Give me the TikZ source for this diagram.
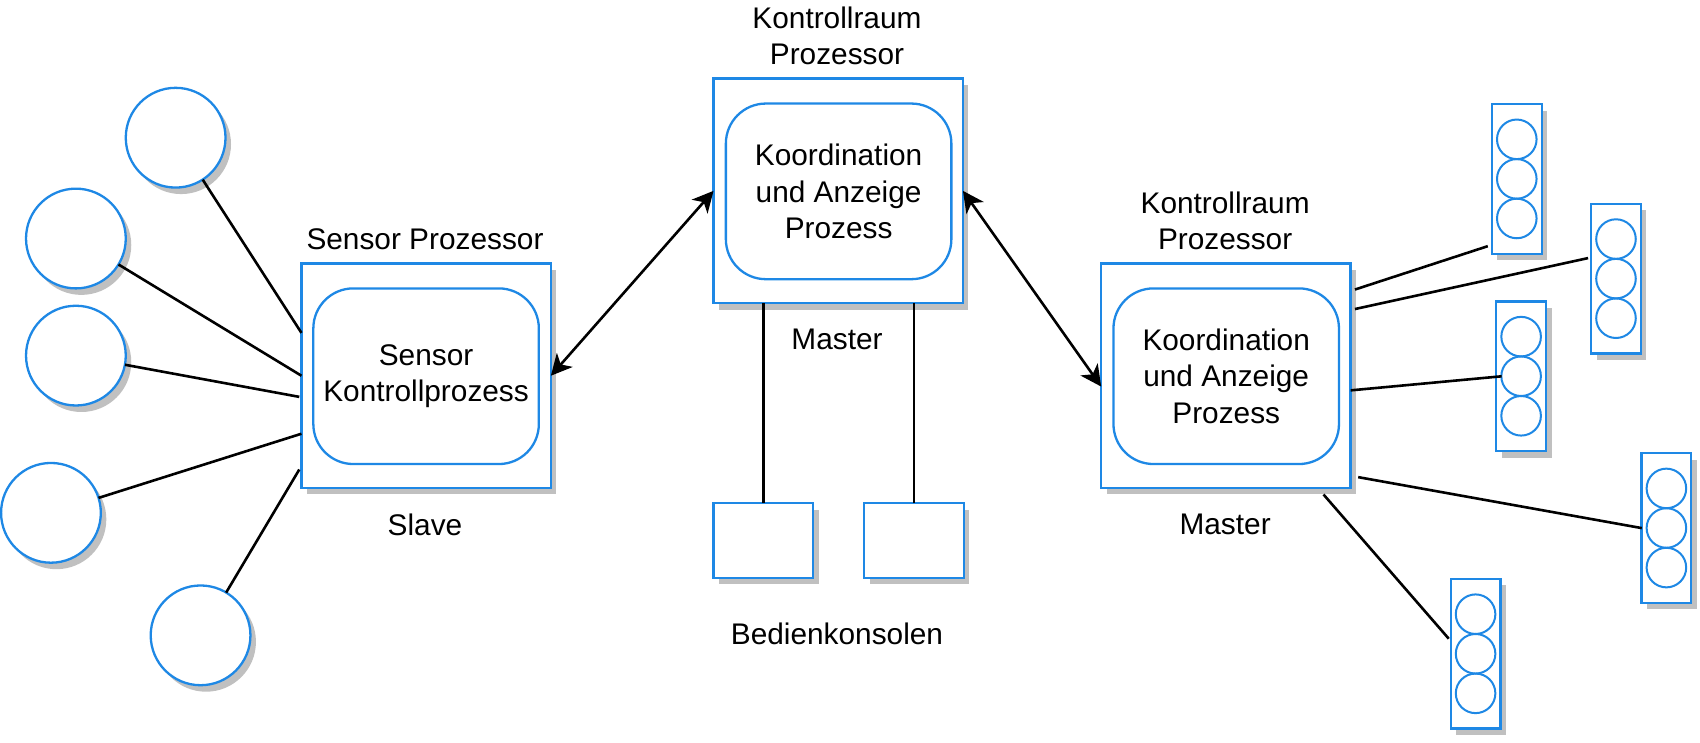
\documentclass[tikz,border=0pt]{standalone}
\usepackage{fontspec}
\setmainfont{Liberation Sans}
\usetikzlibrary{arrows.meta,shadows,calc}
\definecolor{bl}{RGB}{30,136,229}
\definecolor{shd}{RGB}{192,192,192}
\begin{document}
\begin{tikzpicture}[x=1pt,y=-1pt,scale=1.0842,transform shape,
 font=\fontsize{27.5}{33.5}\selectfont,
 sh/.style={drop shadow={shadow xshift=5.5pt,shadow yshift=-6.5pt,fill=shd,opacity=1}},
 box/.style={draw=bl,line width=2.3pt,fill=white,sh,minimum width=230pt,minimum height=207pt,inner sep=0pt,outer sep=0pt},
 proc/.style={draw=bl,line width=2.3pt,rounded corners=40pt,minimum width=208pt,minimum height=162pt,align=center,inner sep=0pt},
 sensor/.style={circle,draw=bl,line width=2.3pt,fill=white,sh,minimum size=92pt,inner sep=0pt,outer sep=0pt},
 console/.style={draw=bl,line width=2.3pt,fill=white,sh,minimum width=92pt,minimum height=69pt,inner sep=0pt,outer sep=0pt},
 tlrect/.style={draw=bl,line width=2.3pt,fill=white,sh,minimum width=46pt,minimum height=138pt,inner sep=0pt,outer sep=0pt},
 tlc/.style={circle,draw=bl,line width=2pt,minimum size=36.5pt,inner sep=0pt,outer sep=0pt},
 lbl/.style={align=center,inner sep=0pt},
 wire/.style={draw=black,line width=2.6pt},
 biarrow/.style={wire,{Stealth[length=21pt,width=21pt,inset=6pt]}-{Stealth[length=21pt,width=21pt,inset=6pt]}},
 tlight/.pic={
   \node[tlrect] (-r) at (0,0) {};
   \node[tlc] (-a) at (0,-36.5) {};
   \node[tlc] (-b) at (0,0) {};
   \node[tlc] (-c) at (0,36.5) {};
 }]
\useasboundingbox (0,0) rectangle (1568,685.3);

% sensor circles
\node[sensor] (c1) at (162,127) {};
\node[sensor] (c2) at (70,220) {};
\node[sensor] (c3) at (70,328) {};
\node[sensor] (c4) at (47,473) {};
\node[sensor] (c5) at (185,586) {};

% sensor processor
\node[box] (sb) at (393,346.5) {};
\node[proc] (sp) at (393,347) {Sensor\\Kontrollprozess};
\node[lbl] (sbt) at (392,221) {Sensor Prozessor};
\node[lbl] (sbb) at (392,484) {Slave};

% central processor
\node[box] (cm) at (773,176) {};
\node[proc] (cp) at (773.5,176.5) {Koordination\\und Anzeige\\Prozess};
\node[lbl] (cmt) at (772,33) {Kontrollraum\\Prozessor};
\node[lbl] (cmb) at (772,313) {Master};

% consoles
\node[console] (k1) at (704,498.5) {};
\node[console] (k2) at (843,498.5) {};
\node[lbl] (kt) at (772,585) {Bedienkonsolen};

% right processor
\node[box] (rb) at (1130.5,346.5) {};
\node[proc] (rp) at (1131,347) {Koordination\\und Anzeige\\Prozess};
\node[lbl] (rbt) at (1130,204) {Kontrollraum\\Prozessor};
\node[lbl] (rbb) at (1130,484) {Master};

% traffic lights
\pic (t1) at (1399,165) {tlight};
\pic (t2) at (1490.5,257) {tlight};
\pic (t3) at (1403,347) {tlight};
\pic (t4) at (1537,487) {tlight};
\pic (t5) at (1361,603) {tlight};

% sensor wires
\draw[wire] (c1) -- ([shift={(0,64)}]sb.north west);
\draw[wire] (c2) -- (sb.west);
\draw[wire] (c3) -- ([shift={(-2,123)}]sb.north west);
\draw[wire] (c4) -- ([shift={(0,157)}]sb.north west);
\draw[wire] (c5) -- ([shift={(-2,190)}]sb.north west);

% arrows
\draw[biarrow] (sb.east) -- (cm.west);
\draw[biarrow] (cm.east) -- ([shift={(0,10)}]rb.west);

% console wires
\draw[wire] (k1.north) -- (k1.north |- cm.south);
\draw[wire] (k2.north) -- (k2.north |- cm.south);

% traffic light wires
\draw[wire] ([shift={(4,24)}]rb.north east) -- ([shift={(-4,-7)}]t1-r.south west);
\draw[wire] ([shift={(4,42)}]rb.north east) -- ([shift={(-3,50)}]t2-r.north west);
\draw[wire] ([shift={(0,117)}]rb.north east) -- (t3-b.west);
\draw[wire] ([shift={(7,-10)}]rb.south east) -- (t4-r.west);
\draw[wire] ([shift={(-25,6)}]rb.south east) -- ([shift={(-2,55)}]t5-r.north west);
\end{tikzpicture}
\end{document}
